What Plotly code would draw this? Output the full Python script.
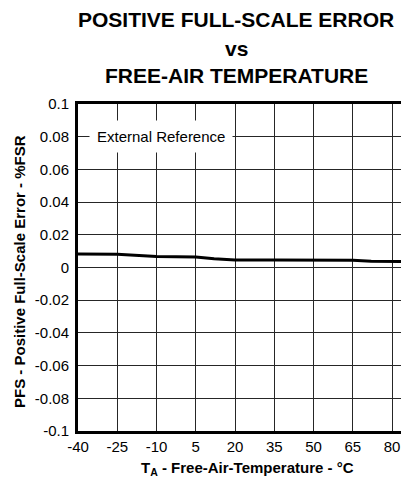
import plotly.graph_objects as go

temperature_c = [-40, -25, -10, 5, 12, 20, 35, 50, 65, 72, 80, 85]
pfs_error = [0.0083, 0.0081, 0.0068, 0.0064, 0.0053, 0.0046, 0.0046, 0.0046, 0.0045, 0.0038, 0.0036, 0.0036]

x_tickvals = [-40, -25, -10, 5, 20, 35, 50, 65, 80]
x_ticktext = ["-40", "-25", "-10", "5", "20", "35", "50", "65", "80"]
y_tickvals = [0.1, 0.08, 0.06, 0.04, 0.02, 0, -0.02, -0.04, -0.06, -0.08, -0.1]
y_ticktext = ["0.1", "0.08", "0.06", "0.04", "0.02", "0", "-0.02", "-0.04", "-0.06", "-0.08", "-0.1"]

title_lines = ["POSITIVE FULL-SCALE ERROR", "vs", "FREE-AIR TEMPERATURE"]
x_title = "T<sub>A</sub> - Free-Air-Temperature - °C"
y_title = "PFS - Positive Full-Scale Error - %FSR"
note_text = "External Reference"

FONT = "Liberation Sans, Arial, sans-serif"
W, H = 401, 481
L, R, T, B = 78, 0, 104, 50
PW, PH = W - L - R, H - T - B


def px(x):
    return (x - L) / PW


def py(y):
    return (H - B - y) / PH


fig = go.Figure()
fig.add_trace(go.Scatter(x=temperature_c, y=pfs_error, mode="lines",
                         line=dict(color="black", width=3), showlegend=False))

annotations = []
for txt, yc in zip(title_lines, [19, 48, 76]):
    annotations.append(dict(text=f"<b>{txt}</b>", x=px(236), y=py(yc), xref="paper", yref="paper",
                            xanchor="center", yanchor="middle", showarrow=False,
                            font=dict(family=FONT, size=21, color="black")))
annotations.append(dict(text=f"<b>{x_title}</b>", x=px(247), y=py(468), xref="paper", yref="paper",
                        xanchor="center", yanchor="middle", showarrow=False,
                        font=dict(family=FONT, size=15, color="black")))
annotations.append(dict(text=f"<b>{y_title}</b>", x=px(19), y=py(272), xref="paper", yref="paper",
                        xanchor="center", yanchor="middle", showarrow=False, textangle=-90,
                        font=dict(family=FONT, size=15, color="black")))
annotations.append(dict(text=note_text, x=-40 + (160.5 - 78) / PW * 123.4, y=0.08, xref="x", yref="y",
                        xanchor="center", yanchor="middle", showarrow=False,
                        bgcolor="white", borderpad=7,
                        font=dict(family=FONT, size=15, color="black")))

fig.update_layout(
    width=W, height=H,
    margin=dict(l=L, r=R, t=T, b=B, pad=0),
    paper_bgcolor="white", plot_bgcolor="white",
    font=dict(family=FONT, size=15, color="black"),
    annotations=annotations,
)
fig.update_xaxes(range=[-40, 83.4], tickvals=x_tickvals, ticktext=x_ticktext,
                 showgrid=True, gridcolor="#262626", gridwidth=1.2,
                 showline=True, linecolor="black", linewidth=3, mirror=True,
                 ticks="outside", ticklen=0, tickcolor="rgba(0,0,0,0)",
                 zeroline=False, tickfont=dict(size=15), automargin=False)
fig.update_yaxes(range=[-0.1, 0.1], tickvals=y_tickvals, ticktext=y_ticktext,
                 showgrid=True, gridcolor="#262626", gridwidth=1.2,
                 showline=True, linecolor="black", linewidth=3,
                 ticks="outside", ticklen=3, tickcolor="rgba(0,0,0,0)",
                 zeroline=False, tickfont=dict(size=15), automargin=False)

fig.write_html("out.html", config={"displayModeBar": False},
               post_script="document.body.style.margin='0';document.body.style.overflow='hidden';")
